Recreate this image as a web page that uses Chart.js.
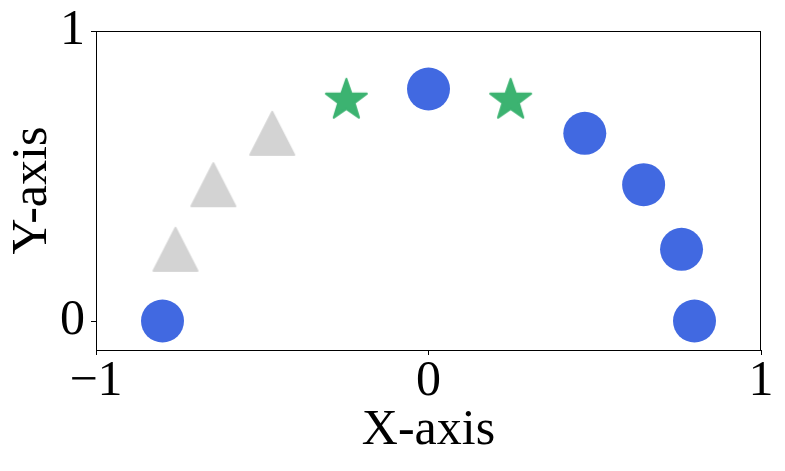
<!DOCTYPE html>
<html>
<head>
<meta charset="utf-8">
<script src="https://cdn.jsdelivr.net/npm/chart.js@4/dist/chart.umd.min.js"></script>
<style>
  body { margin: 0; background: #fff; }
</style>
</head>
<body>
<canvas id="chart" width="785" height="471"></canvas>
<script>
// points
const circleX = [-0.8, 0, 0.47, 0.647, 0.761, 0.8];
const circleY = [0, 0.8, 0.647, 0.47, 0.247, 0];
const triangleX = [-0.761, -0.647, -0.47];
const triangleY = [0.247, 0.47, 0.647];
const starX = [-0.247, 0.247];
const starY = [0.761, 0.761];

const xTicks = [-1, 0, 1];
const xTickLabels = ['\u22121', '0', '1'];
const yTicks = [0, 1];
const yTickLabels = ['0', '1'];

const fontFamily = '"Liberation Serif", "DejaVu Serif", serif';

function toPoints(xs, ys) {
    return xs.map(function (x, i) { return { x: x, y: ys[i] }; });
}

// triangle marker, centred on its bounding box like matplotlib '^'
function makeTriangle(color) {
    const w = 46, h = 45, pad = 2;
    const c = document.createElement('canvas');
    c.width = w + pad * 2;
    c.height = h + pad * 2;
    const ctx = c.getContext('2d');
    ctx.fillStyle = color;
    ctx.strokeStyle = color;
    ctx.lineWidth = 2;
    ctx.lineJoin = 'round';
    ctx.beginPath();
    ctx.moveTo(pad + w / 2, pad + 1);
    ctx.lineTo(pad + w - 1, pad + h - 1);
    ctx.lineTo(pad + 1, pad + h - 1);
    ctx.closePath();
    ctx.fill();
    ctx.stroke();
    return c;
}

// five pointed star marker like matplotlib '*'
function makeStar(color) {
    const R = 22.5, r = R * 0.381, pad = 2;
    const size = Math.ceil(R * 2 + pad * 2);
    const c = document.createElement('canvas');
    c.width = size;
    c.height = size;
    const ctx = c.getContext('2d');
    const cx = size / 2, cy = size / 2;
    ctx.fillStyle = color;
    ctx.strokeStyle = color;
    ctx.lineWidth = 2;
    ctx.lineJoin = 'round';
    ctx.beginPath();
    for (let i = 0; i < 10; i++) {
        const rad = (i % 2 === 0) ? R - 1 : r;
        const a = -Math.PI / 2 + i * Math.PI / 5;
        const px = cx + rad * Math.cos(a);
        const py = cy + rad * Math.sin(a);
        if (i === 0) ctx.moveTo(px, py); else ctx.lineTo(px, py);
    }
    ctx.closePath();
    ctx.fill();
    ctx.stroke();
    return c;
}

// full box around the plot area
const frame = {
    id: 'frame',
    afterDraw: function (chart) {
        const a = chart.chartArea;
        const ctx = chart.ctx;
        ctx.save();
        ctx.strokeStyle = '#000';
        ctx.lineWidth = 1;
        ctx.strokeRect(a.left + 0.5, a.top + 0.5, a.right - a.left - 1, a.bottom - a.top);
        ctx.restore();
    }
};

const ctx = document.getElementById('chart').getContext('2d');
new Chart(ctx, {
    type: 'scatter',
    data: {
        datasets: [
            {
                data: toPoints(circleX, circleY),
                pointStyle: 'circle',
                pointRadius: 21.5,
                pointHoverRadius: 21.5,
                backgroundColor: '#4169E1',
                borderColor: '#4169E1',
                borderWidth: 0
            },
            {
                data: toPoints(triangleX, triangleY),
                pointStyle: makeTriangle('#D3D3D3'),
                pointRadius: 23
            },
            {
                data: toPoints(starX, starY),
                pointStyle: makeStar('#3CB371'),
                pointRadius: 23
            }
        ]
    },
    options: {
        responsive: false,
        animation: false,
        layout: { padding: { top: 30, right: 23, left: 0, bottom: 0 } },
        plugins: {
            legend: { display: false },
            tooltip: { enabled: false }
        },
        scales: {
            x: {
                type: 'linear',
                min: -1,
                max: 1,
                afterBuildTicks: function (scale) {
                    scale.ticks = xTicks.map(function (v) { return { value: v }; });
                },
                afterFit: function (scale) { scale.height = 121; },
                grid: { drawOnChartArea: false, tickLength: 5, color: '#000' },
                border: { display: true, color: '#000', width: 1 },
                ticks: {
                    color: '#000',
                    padding: 2,
                    maxRotation: 0,
                    font: { family: fontFamily, size: 50, lineHeight: 1 },
                    callback: function (v) { return xTickLabels[xTicks.indexOf(v)]; }
                },
                title: {
                    display: true,
                    text: 'X-axis',
                    color: '#000',
                    padding: { top: 0, bottom: 10 },
                    font: { family: fontFamily, size: 50, lineHeight: 1.2 }
                }
            },
            y: {
                type: 'linear',
                min: -0.1,
                max: 1,
                afterBuildTicks: function (scale) {
                    scale.ticks = yTicks.map(function (v) { return { value: v }; });
                },
                afterFit: function (scale) { scale.width = 96; },
                grid: { drawOnChartArea: false, tickLength: 5, color: '#000' },
                border: { display: true, color: '#000', width: 1 },
                ticks: {
                    color: '#000',
                    padding: 6,
                    font: { family: fontFamily, size: 50, lineHeight: 1 },
                    callback: function (v) { return yTickLabels[yTicks.indexOf(v)]; }
                },
                title: {
                    display: true,
                    text: 'Y-axis',
                    color: '#000',
                    padding: { top: 3, bottom: 0 },
                    font: { family: fontFamily, size: 50, lineHeight: 1.2 }
                }
            }
        }
    },
    plugins: [frame]
});
</script>
</body>
</html>
